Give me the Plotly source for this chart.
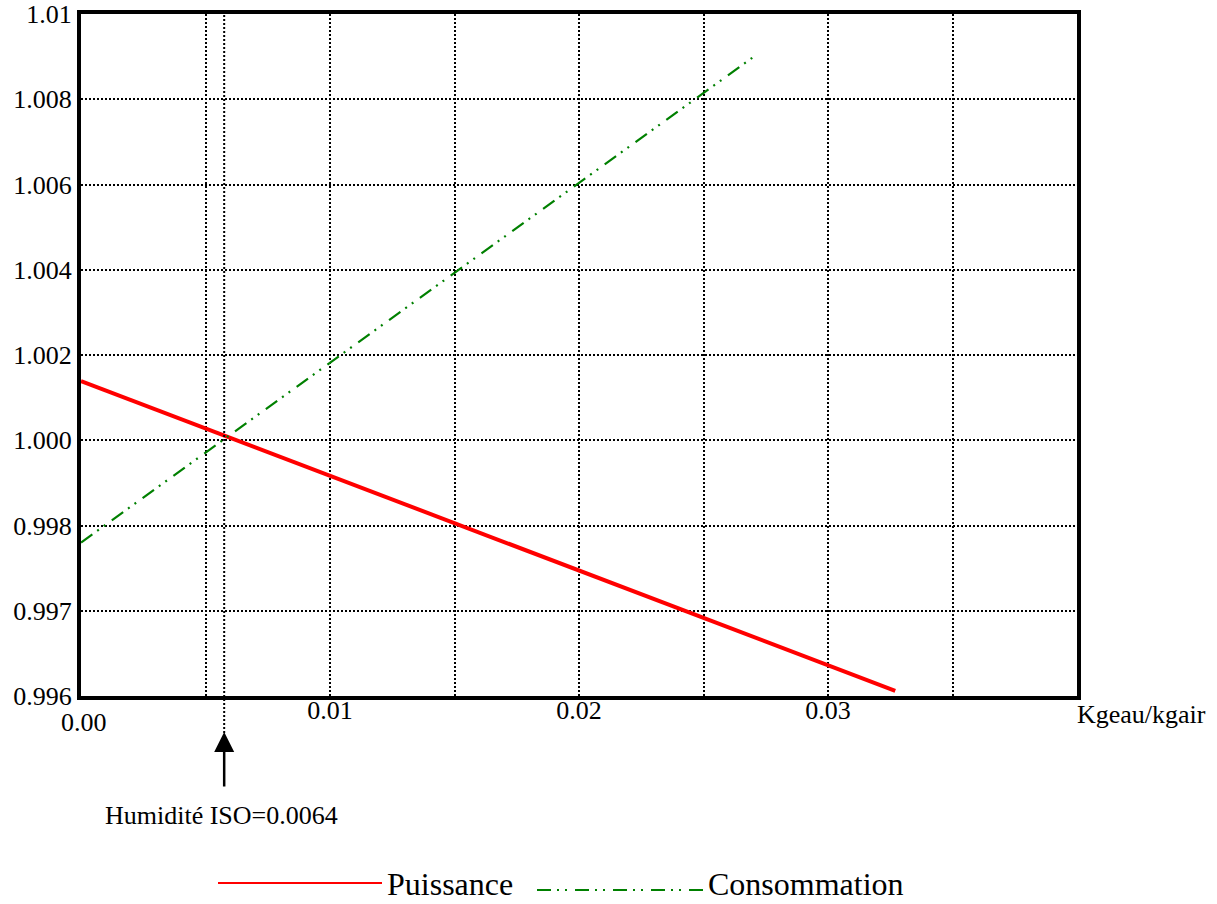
import numpy as np
import plotly.graph_objects as go

# ---- data ----
y_tick_values = [0.996, 0.997, 0.998, 1.000, 1.002, 1.004, 1.006, 1.008, 1.010]
y_tick_labels = ["0.996", "0.997", "0.998", "1.000", "1.002", "1.004", "1.006", "1.008", "1.01"]
x_grid = [0.005, 0.010, 0.015, 0.020, 0.025, 0.030, 0.035]
x_tick_labels = ["", "0.01", "", "0.02", "", "0.03", ""]

x_puissance = [0.0, 0.0327]
y_puissance = [1.00139, 0.99606]
x_consommation = [0.0, 0.0270]
y_consommation = [0.99780, 1.00899]

iso_x = 0.00575
iso_label = "Humidité ISO=0.0064"

FONT = "Liberation Serif"

# the value axis is graduated unevenly: map values onto evenly spaced grid positions
pos = list(range(len(y_tick_values)))
def ymap(v):
    return np.interp(v, y_tick_values, pos)

fig = go.Figure()
fig.add_trace(go.Scatter(x=x_puissance, y=ymap(y_puissance), mode="lines",
                         line=dict(color="#ff0000", width=4), name="Puissance", showlegend=False))
fig.add_trace(go.Scatter(x=x_consommation, y=ymap(y_consommation), mode="lines",
                         line=dict(color="#008000", width=2.2, dash="14px,6px,2px,6px,2px,8px"),
                         name="Consommation", showlegend=False))

L, R, T, B = 81, 140, 14, 208
W, H = 1217, 904
pw, ph = W - L - R, H - T - B

def px_x(p):
    return (p - L) / pw

def px_y(p):
    return (H - B - p) / ph

GRID_DASH = "2px,2px"

fig.update_layout(
    width=W, height=H,
    margin=dict(l=L, r=R, t=T, b=B, autoexpand=False),
    paper_bgcolor="white", plot_bgcolor="white",
    font=dict(family=FONT, size=26, color="black"),
    xaxis=dict(range=[0, 0.04], tickvals=x_grid, ticktext=x_tick_labels, automargin=False,
               showgrid=True, gridcolor="black", gridwidth=2, griddash=GRID_DASH,
               showline=True, linecolor="black", linewidth=4, mirror=True,
               ticks="", ticklen=0, ticklabelstandoff=-12, zeroline=False,
               tickfont=dict(size=26, family=FONT, color="black")),
    yaxis=dict(range=[0, len(pos) - 1], tickvals=pos, ticktext=y_tick_labels, automargin=False,
               showgrid=True, gridcolor="black", gridwidth=2, griddash=GRID_DASH,
               showline=True, linecolor="black", linewidth=4, mirror=True,
               ticks="", ticklen=0, zeroline=False,
               tickfont=dict(size=26, family=FONT, color="black")),
)

# ISO humidity marker line (dotted, extends below the axis)
fig.add_shape(type="line", xref="x", yref="paper", x0=iso_x, x1=iso_x, y0=px_y(733), y1=1,
              line=dict(color="black", width=2, dash=GRID_DASH))
fig.add_annotation(x=iso_x, y=px_y(732), xref="x", yref="paper", text="", showarrow=True,
                   ax=0, ay=56, arrowhead=2, arrowsize=1.6, arrowwidth=2.5, arrowcolor="black")
fig.add_annotation(x=px_x(221), y=px_y(815), xref="paper", yref="paper", text=iso_label,
                   showarrow=False, xanchor="center", yanchor="middle",
                   font=dict(size=26, family=FONT))

# extra axis texts
fig.add_annotation(x=px_x(84), y=px_y(722), xref="paper", yref="paper", text="0.00",
                   showarrow=False, xanchor="center", yanchor="middle", font=dict(size=26, family=FONT))
fig.add_annotation(x=px_x(1141), y=px_y(714), xref="paper", yref="paper", text="Kgeau/kgair",
                   showarrow=False, xanchor="center", yanchor="middle", font=dict(size=26, family=FONT))

# hand-drawn legend
fig.add_shape(type="line", xref="paper", yref="paper", x0=px_x(218), x1=px_x(382),
              y0=px_y(883), y1=px_y(883), line=dict(color="#ff0000", width=2))
fig.add_annotation(x=px_x(386), y=px_y(903), xref="paper", yref="paper", text="Puissance",
                   showarrow=False, xanchor="left", yanchor="bottom", borderpad=0,
                   font=dict(size=32, family=FONT))
fig.add_shape(type="line", xref="paper", yref="paper", x0=px_x(537), x1=px_x(703),
              y0=px_y(890), y1=px_y(890), line=dict(color="#008000", width=2.2,
                                                       dash="14px,6px,2px,6px,2px,8px"))
fig.add_annotation(x=px_x(707), y=px_y(903), xref="paper", yref="paper", text="Consommation",
                   showarrow=False, xanchor="left", yanchor="bottom", borderpad=0,
                   font=dict(size=32, family=FONT))

fig.write_html("out.html", config={"displayModeBar": False},
               post_script="document.body.style.margin='0';document.body.style.overflow='hidden';")
